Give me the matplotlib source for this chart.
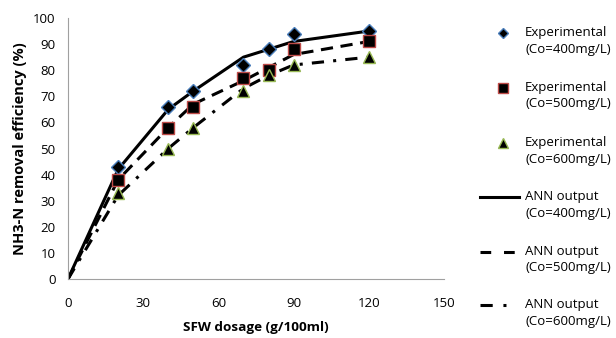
import numpy as np
import matplotlib
matplotlib.use("Agg")
import matplotlib.pyplot as plt
from matplotlib.lines import Line2D

plt.rcParams['font.family'] = ['Open Sans', 'DejaVu Sans']

# experimental points
dose = [20, 40, 50, 70, 80, 90, 120]
exp400 = [43, 66, 72, 82, 88, 94, 95]
exp500 = [38, 58, 66, 77, 80, 88, 91]
exp600 = [33, 50, 58, 72, 78, 82, 85]

# ANN model output
ann_x = [0, 20, 40, 50, 70, 80, 90, 120]
ann400 = [0, 42, 65, 72, 85, 88, 91, 95]
ann500 = [0, 38, 58, 67, 76, 81, 86, 91]
ann600 = [0, 32, 50, 58, 73, 78, 82, 85]

W, H = 616, 338
fig = plt.figure(figsize=(W / 100, H / 100), dpi=100)
ax = fig.add_axes([68 / W, 1 - 279 / H, 376 / W, 261 / H])

dash = (0, (4, 2.5))
dashdot = (0, (4, 3, 1, 3))
ax.plot(ann_x, ann400, color='black', lw=2.2, ls='-', zorder=2)
ax.plot(ann_x, ann500, color='black', lw=2.2, ls=dash, zorder=2)
ax.plot(ann_x, ann600, color='black', lw=2.2, ls=dashdot, zorder=2)

mk = [dict(marker='D', ms=7, mfc='black', mec='#4a7ebb', mew=1),
      dict(marker='s', ms=8.5, mfc='black', mec='#be4b48', mew=1),
      dict(marker='^', ms=9, mfc='black', mec='#98b954', mew=1)]
ax.plot(dose, exp400, ls='none', zorder=3, **mk[0])
ax.plot(dose, exp500, ls='none', zorder=3, **mk[1])
ax.plot(dose, exp600, ls='none', zorder=3, **mk[2])

ax.set_xlim(0, 150)
ax.set_ylim(0, 100)
ax.set_xticks(np.arange(0, 151, 30))
ax.set_yticks(np.arange(0, 101, 10))
ax.tick_params(length=0, labelsize=9.5)
ax.tick_params(axis='x', pad=13)
ax.tick_params(axis='y', pad=9)
for s in ['top', 'right']:
    ax.spines[s].set_visible(False)
for s in ['left', 'bottom']:
    ax.spines[s].set_color('#a0a0a0')

ax.set_xlabel('SFW dosage (g/100ml)', fontsize=9.7, fontweight='bold', labelpad=8)
ax.set_ylabel('NH3-N removal efficiency (%)', fontsize=10.5, fontweight='bold', labelpad=4)

# legend, drawn by hand so the handle sits next to the first text line
labels = ['Experimental\n(Co=400mg/L)', 'Experimental\n(Co=500mg/L)', 'Experimental\n(Co=600mg/L)',
          'ANN output\n(Co=400mg/L)', 'ANN output\n(Co=500mg/L)', 'ANN output\n(Co=600mg/L)']
ys = [33, 88, 143, 197, 252, 305]
leg_lines = [('-', 519), ((0, (3.5, 4.2)), 518), ((0, (4, 3.5, 1, 8)), 508)]
for i, (lab, yp) in enumerate(zip(labels, ys)):
    yf = 1 - yp / H
    if i < 3:
        m = dict(mk[i])
        m['ms'] = m['ms'] * 0.8
        fig.add_artist(Line2D([503 / W], [yf], ls='none', **m))
    else:
        style, xend = leg_lines[i - 3]
        fig.add_artist(Line2D([480 / W, xend / W], [yf, yf], color='black', lw=2.2, ls=style))
    fig.text(525 / W, 1 - (yp - 7) / H, lab, fontsize=9.5, va='top', ha='left', linespacing=1.35)

fig.savefig('out.png', dpi=100)
